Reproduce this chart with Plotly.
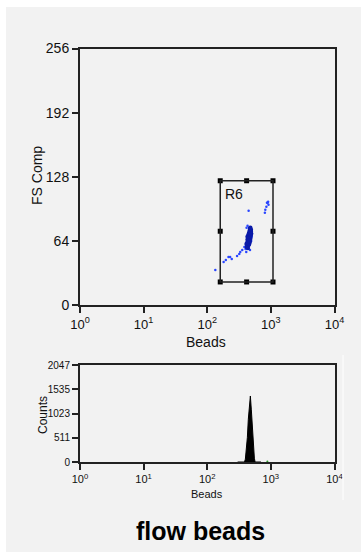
import numpy as np
import plotly.graph_objects as go

W, H = 361, 552

# ---------------- data ----------------
x_tick_vals = [1, 10, 100, 1000, 10000]
x_tick_text = ["10<sup>0</sup>", "10<sup>1</sup>", "10<sup>2</sup>", "10<sup>3</sup>", "10<sup>4</sup>"]
fs_tick_vals = [0, 64, 128, 192, 256]
count_tick_vals = [0, 511, 1023, 1535, 2047]

# dense bead cluster (Beads, FS Comp)
blob_x = [420, 430, 440, 425, 435, 445, 455, 430, 440, 450, 460, 445, 455, 465, 470, 450, 460, 475,
          465, 480, 470, 485, 440, 450, 460, 470, 415, 425, 435, 445, 455, 465, 475, 480, 490, 485,
          475, 460, 440, 430, 452, 458, 447, 462, 468, 438, 443, 472, 478, 456]
blob_y = [58, 60, 61, 62, 63, 63, 64, 65, 66, 66, 67, 68, 69, 69, 70, 71, 72, 72,
          74, 74, 76, 75, 64, 62, 65, 67, 61, 59, 57, 60, 61, 63, 66, 69, 71, 73,
          77, 70, 69, 68, 67, 68, 65, 71, 73, 62, 66, 70, 71, 64]

# sparse events around the cluster
spread_x = [134, 181, 196, 216, 229, 243, 294, 318, 330, 355, 383, 400, 410, 395, 470, 500, 490,
            415, 430, 447, 891, 917, 850, 818, 805, 868, 905]
spread_y = [35, 43, 45, 48, 48, 46, 49, 51, 53, 55, 58, 56, 53, 58, 55, 68, 64,
            77, 79, 94, 102, 100, 98, 95, 92, 102, 103]

# region gate R6 (Beads, FS Comp)
gate_x = [160, 1080]
gate_y = [23, 124]
gate_name = "R6"

# histogram of Beads channel
hist_x = [300, 385, 397, 411, 427, 442, 459, 476, 493, 511, 530, 550, 565, 700]
hist_counts = [0, 0, 60, 250, 520, 900, 1250, 1393, 1100, 700, 300, 80, 0, 0]
stray_x = [881]
stray_counts = [10]

# ---------------- figure ----------------
fig = go.Figure()

fig.add_trace(go.Scatter(x=spread_x, y=spread_y, mode="markers",
                         marker=dict(size=2.5, color="#2a46ff"),
                         xaxis="x", yaxis="y", showlegend=False))
fig.add_trace(go.Scatter(x=blob_x, y=blob_y, mode="markers",
                         marker=dict(size=4.5, color="#0a1aa8"),
                         xaxis="x", yaxis="y", showlegend=False))

gx0, gx1 = gate_x
gy0, gy1 = gate_y
gxm = 10 ** ((np.log10(gx0) + np.log10(gx1)) / 2)
gym = (gy0 + gy1) / 2
hx = [gx0, gxm, gx1, gx0, gx1, gx0, gxm, gx1]
hy = [gy1, gy1, gy1, gym, gym, gy0, gy0, gy0]
fig.add_trace(go.Scatter(x=hx, y=hy, mode="markers",
                         marker=dict(symbol="square", size=5, color="black"),
                         xaxis="x", yaxis="y", showlegend=False))

fig.add_trace(go.Scatter(x=hist_x, y=hist_counts, mode="lines", line=dict(color="black", width=1),
                         fill="tozeroy", fillcolor="black",
                         xaxis="x2", yaxis="y2", showlegend=False))
fig.add_trace(go.Scatter(x=stray_x, y=stray_counts, mode="markers",
                         marker=dict(size=2, color="#2c9a2c"),
                         xaxis="x2", yaxis="y2", showlegend=False))

xdom = [80 / W, 334.5 / W]
font_main = "Liberation Sans, Arial, sans-serif"

axis_common = dict(showline=True, linecolor="#222", linewidth=2, mirror=True,
                   ticks="outside", ticklen=6, tickwidth=1.5, tickcolor="#222",
                   showgrid=False, zeroline=False, automargin=False)

fig.update_layout(
    width=W, height=H,
    margin=dict(l=0, r=0, t=0, b=0, pad=0, autoexpand=False),
    paper_bgcolor="white",
    plot_bgcolor="#f2f2f2",
    showlegend=False,
    xaxis=dict(type="log", range=[0, 4], domain=xdom, anchor="y",
               tickvals=x_tick_vals, ticktext=x_tick_text,
               tickfont=dict(family=font_main, size=13, color="#111"), **axis_common),
    yaxis=dict(range=[0, 256], domain=[1 - 305 / H, 1 - 48.5 / H], anchor="x",
               tickvals=fs_tick_vals,
               tickfont=dict(family=font_main, size=14, color="#111"), **axis_common),
    xaxis2=dict(type="log", range=[0, 4], domain=xdom, anchor="y2",
                tickvals=x_tick_vals, ticktext=x_tick_text,
                tickfont=dict(family=font_main, size=11, color="#111"), **axis_common),
    yaxis2=dict(range=[0, 2047], domain=[1 - 462 / H, 1 - 365 / H], anchor="x2",
                tickvals=count_tick_vals,
                tickfont=dict(family=font_main, size=10, color="#111"), **axis_common),
    shapes=[
        dict(type="rect", xref="paper", yref="paper", x0=6 / W, x1=1, y0=0, y1=1 - 7 / H,
             fillcolor="#f2f2f2", line=dict(width=0), layer="below"),
        dict(type="rect", xref="x", yref="y", x0=gx0, x1=gx1, y0=gy0, y1=gy1,
             line=dict(color="#222", width=1.5), layer="above"),
        dict(type="line", xref="paper", yref="paper", x0=343 / W, x1=343 / W,
             y0=1 - 500 / H, y1=1 - 355 / H, line=dict(color="white", width=1)),
    ],
    annotations=[
        dict(text="FS Comp", xref="paper", yref="paper", x=37 / W, y=1 - 176 / H,
             xanchor="center", yanchor="middle",
             textangle=-90, showarrow=False, font=dict(family=font_main, size=14, color="#111")),
        dict(text="Beads", xref="paper", yref="paper", x=206 / W, y=1 - 342 / H,
             xanchor="center", yanchor="middle",
             showarrow=False, font=dict(family=font_main, size=14, color="#111")),
        dict(text=gate_name, xref="paper", yref="paper", x=234 / W, y=1 - 194.5 / H,
             xanchor="center", yanchor="middle",
             showarrow=False, font=dict(family=font_main, size=14, color="#111")),
        dict(text="Counts", xref="paper", yref="paper", x=43 / W, y=1 - 415 / H,
             xanchor="center", yanchor="middle",
             textangle=-90, showarrow=False, font=dict(family=font_main, size=12, color="#111")),
        dict(text="Beads", xref="paper", yref="paper", x=207 / W, y=1 - 494 / H,
             xanchor="center", yanchor="middle",
             showarrow=False, font=dict(family=font_main, size=11, color="#111")),
        dict(text="<b>flow beads</b>", xref="paper", yref="paper", x=200 / W, y=1 - 531 / H,
             xanchor="center", yanchor="middle",
             showarrow=False, font=dict(family=font_main, size=25, color="black")),
    ],
)

fig.write_html("out.html",
               config={"displayModeBar": False},
               post_script="document.body.style.margin='0';document.body.style.overflow='hidden';")
